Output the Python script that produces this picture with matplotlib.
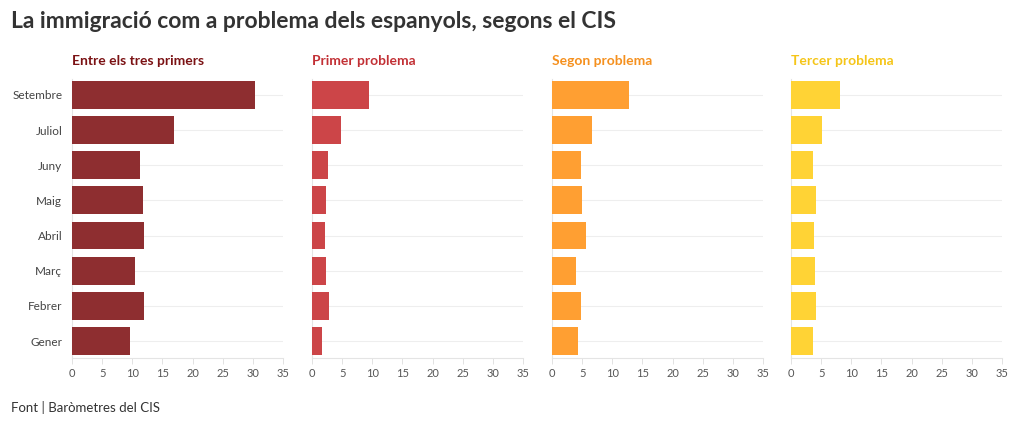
import numpy as np
import matplotlib.pyplot as plt

plt.rcParams['font.family'] = ['Lato', 'DejaVu Sans']

months = ['Setembre', 'Juliol', 'Juny', 'Maig', 'Abril', 'Març', 'Febrer', 'Gener']
tres_primers = [30.4, 16.9, 11.2, 11.7, 11.9, 10.4, 11.9, 9.6]
primer = [9.4, 4.8, 2.6, 2.4, 2.2, 2.4, 2.8, 1.6]
segon = [12.8, 6.7, 4.8, 4.9, 5.7, 3.9, 4.8, 4.3]
tercer = [8.1, 5.2, 3.7, 4.2, 3.8, 3.9, 4.2, 3.7]

titles = ['Entre els tres primers', 'Primer problema', 'Segon problema', 'Tercer problema']
series = [tres_primers, primer, segon, tercer]
bar_colors = ['#8e2e30', '#cc4548', '#ff9f32', '#ffd335']
title_colors = ['#7b1214', '#c23035', '#f5901e', '#f5c518']

W, H = 1020, 426
fig = plt.figure(figsize=(W / 100, H / 100), dpi=100)

lefts = [72, 312, 552, 791]
width = 211
top, bottom = 79, 358

y = np.arange(len(months))[::-1]

for i in range(4):
    ax = fig.add_axes([lefts[i] / W, 1 - bottom / H, width / W, (bottom - top) / H])
    ax.barh(y, series[i], height=0.79, color=bar_colors[i], zorder=3)
    ax.set_xlim(0, 35)
    ax.set_ylim(-0.48, 7.45)
    ax.set_xticks(range(0, 36, 5))
    ax.set_yticks(y)
    if i == 0:
        ax.set_yticklabels(months)
    else:
        ax.set_yticklabels([])
    ax.tick_params(axis='y', length=0, pad=7, labelsize=8.5, labelcolor='#444444')
    ax.tick_params(axis='x', length=4, width=0.6, color='#dddddd', pad=3,
                   labelsize=8, labelcolor='#555555')
    ax.grid(axis='y', color='#eeeeee', linewidth=0.8, zorder=0)
    for s in ['top', 'right']:
        ax.spines[s].set_visible(False)
    for s in ['left', 'bottom']:
        ax.spines[s].set_color('#e4e4e4')
        ax.spines[s].set_linewidth(0.8)
    fig.text(lefts[i] / W, 1 - 61 / H, titles[i], color=title_colors[i],
             fontsize=10, fontweight='bold', va='center', ha='left')

fig.text(11 / W, 1 - 22 / H, 'La immigració com a problema dels espanyols, segons el CIS',
         fontsize=16.5, fontweight='bold', color='#333333', va='center', ha='left')
fig.text(11 / W, 1 - 407 / H, 'Font | Baròmetres del CIS',
         fontsize=9.5, color='#333333', va='center', ha='left')

fig.savefig('out.png', dpi=100, facecolor='white')
